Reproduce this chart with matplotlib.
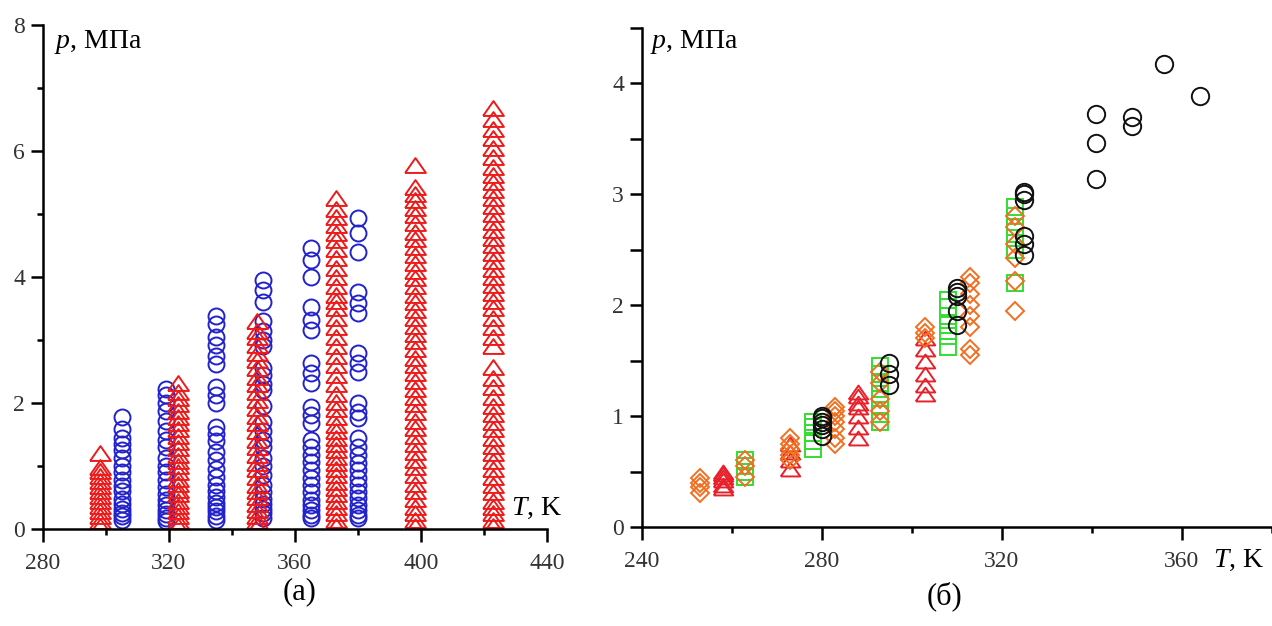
import matplotlib
matplotlib.use('Agg')
import matplotlib.pyplot as plt
from matplotlib.ticker import MultipleLocator

plt.rcParams['font.family'] = ['Liberation Serif', 'DejaVu Serif']
plt.rcParams['mathtext.fontset'] = 'custom'
plt.rcParams['mathtext.rm'] = 'Liberation Serif'
plt.rcParams['mathtext.it'] = 'Liberation Serif:italic'

# ---------------- (а) isotherms ----------------
a_circ_T = [305, 319, 335, 350, 365, 380]
a_circ_p = [
    [0.15, 0.2, 0.26, 0.32, 0.4, 0.48, 0.6, 0.68, 0.78, 0.9, 1.0, 1.12, 1.25, 1.35, 1.45, 1.58, 1.78],
    [0.12, 0.18, 0.24, 0.3, 0.38, 0.46, 0.55, 0.66, 0.78, 0.9, 1.0, 1.12, 1.3, 1.42, 1.55, 1.72, 1.88,
     2.0, 2.12, 2.22],
    [0.15, 0.2, 0.28, 0.35, 0.42, 0.5, 0.6, 0.7, 0.82, 0.95, 1.1, 1.22, 1.4, 1.5, 1.62, 2.0, 2.12, 2.25,
     2.62, 2.75, 2.92, 3.05, 3.25, 3.38],
    [0.18, 0.25, 0.32, 0.4, 0.48, 0.58, 0.7, 0.85, 1.0, 1.12, 1.3, 1.42, 1.55, 1.7, 1.95, 2.2, 2.3,
     2.45, 2.55, 2.9, 3.0, 3.15, 3.3, 3.6, 3.8, 3.95],
    [0.17, 0.22, 0.3, 0.38, 0.46, 0.59, 0.7, 0.81, 0.94, 1.06, 1.17, 1.3, 1.41, 1.68, 1.81, 1.94, 2.32,
     2.48, 2.63, 3.16, 3.32, 3.52, 4.0, 4.27, 4.46],
    [0.17, 0.22, 0.3, 0.38, 0.49, 0.59, 0.7, 0.81, 0.94, 1.05, 1.17, 1.3, 1.44, 1.76, 1.86, 2.0, 2.49,
     2.63, 2.79, 3.43, 3.58, 3.76, 4.4, 4.7, 4.94],
]
a_tri_T = [298, 323, 348, 373, 398, 423]
a_tri_p = [
    [0.05, 0.12, 0.2, 0.28, 0.36, 0.44, 0.52, 0.6, 0.68, 0.76, 0.84, 0.92, 0.98, 1.2],
    [0.05, 0.12, 0.2, 0.28, 0.36, 0.45, 0.55, 0.62, 0.72, 0.8, 0.9, 1.0, 1.08, 1.18, 1.28, 1.38, 1.48,
     1.58, 1.68, 1.78, 1.88, 1.98, 2.08, 2.18, 2.32],
    [0.05, 0.12, 0.2, 0.3, 0.4, 0.5, 0.6, 0.7, 0.82, 0.95, 1.05, 1.18, 1.3, 1.42, 1.55, 1.68, 1.8, 1.92,
     2.05, 2.18, 2.3, 2.42, 2.55, 2.68, 2.8, 2.92, 3.05, 3.15, 3.3],
    [0.05, 0.15, 0.25, 0.35, 0.45, 0.55, 0.65, 0.75, 0.85, 0.95, 1.05, 1.15, 1.25, 1.35, 1.45, 1.55,
     1.65, 1.78, 1.9, 2.02, 2.15, 2.3, 2.45, 2.6, 2.75, 2.9, 3.05, 3.2, 3.35, 3.5, 3.62, 3.72, 3.85,
     4.0, 4.15, 4.3, 4.45, 4.58, 4.7, 4.82, 4.95, 5.08, 5.25],
    [0.05, 0.15, 0.25, 0.35, 0.48, 0.6, 0.72, 0.85, 0.98, 1.1, 1.22, 1.35, 1.48, 1.6, 1.72, 1.85, 1.98,
     2.1, 2.22, 2.35, 2.48, 2.6, 2.72, 2.85, 2.98, 3.1, 3.22, 3.35, 3.48, 3.6, 3.72, 3.85, 3.98, 4.1,
     4.22, 4.35, 4.48, 4.6, 4.72, 4.85, 4.98, 5.1, 5.22, 5.32, 5.43, 5.78],
    [0.05, 0.15, 0.25, 0.35, 0.45, 0.58, 0.7, 0.82, 0.95, 1.08, 1.2, 1.32, 1.45, 1.58, 1.7, 1.82, 1.95,
     2.1, 2.25, 2.4, 2.57, 2.9, 3.05, 3.2, 3.35, 3.5, 3.62, 3.75, 3.88, 4.0, 4.12, 4.25, 4.38, 4.5,
     4.62, 4.75, 4.88, 5.0, 5.12, 5.25, 5.38, 5.5, 5.62, 5.75, 5.9, 6.05, 6.2, 6.35, 6.5, 6.68],
]

# ---------------- (б) saturation data ----------------
b_circ_T = [280, 295, 310, 325, 341, 349, 356, 364]
b_circ_p = [[0.82, 0.88, 0.92, 0.95, 0.98, 1.0], [1.28, 1.38, 1.48], [1.82, 1.95, 2.08, 2.12, 2.15],
            [2.45, 2.55, 2.62, 2.95, 3.0, 3.02], [3.14, 3.46, 3.72], [3.61, 3.69], [4.17], [3.88]]
b_sq_T = [263, 278, 293, 308, 323]
b_sq_p = [[0.45, 0.5, 0.55, 0.6], [0.7, 0.78, 0.85, 0.9, 0.95], [0.95, 1.02, 1.1, 1.2, 1.3, 1.38, 1.45],
          [1.62, 1.72, 1.82, 1.9, 1.98, 2.05], [2.2, 2.5, 2.6, 2.7, 2.8, 2.88]]
b_dia_T = [253, 263, 273, 283, 293, 303, 313, 323]
b_dia_p = [[0.31, 0.36, 0.4, 0.44], [0.45, 0.55, 0.6], [0.6, 0.65, 0.7, 0.75, 0.8],
           [0.75, 0.8, 0.88, 0.95, 1.0, 1.05, 1.08], [0.95, 1.05, 1.15, 1.3, 1.4], [1.7, 1.75, 1.8],
           [1.55, 1.6, 1.8, 1.9, 2.0, 2.1, 2.2, 2.25], [1.95, 2.22, 2.42, 2.55, 2.7, 2.8]]
b_tri_T = [258, 273, 288, 303]
b_tri_p = [[0.35, 0.38, 0.42, 0.45, 0.48, 0.5], [0.52, 0.6, 0.68, 0.75],
           [0.8, 0.9, 1.0, 1.08, 1.12, 1.18, 1.22], [1.2, 1.28, 1.38, 1.5, 1.6, 1.7]]

# wide, flat triangle used for both panels
tri = [(-0.7, -0.5), (0.7, -0.5), (0.0, 0.5), (-0.7, -0.5)]


def columns(ax, temps, groups, **kw):
    for t, ps in zip(temps, groups):
        ax.plot([t] * len(ps), ps, ls='none', mfc='none', **kw)


def style(ax, ymaj, ymin, xmaj, xmin):
    for s in ['top', 'right']:
        ax.spines[s].set_visible(False)
    for s in ['left', 'bottom']:
        ax.spines[s].set_linewidth(1.8)
    ax.xaxis.set_major_locator(MultipleLocator(xmaj))
    ax.xaxis.set_minor_locator(MultipleLocator(xmin))
    ax.yaxis.set_major_locator(MultipleLocator(ymaj))
    ax.yaxis.set_minor_locator(MultipleLocator(ymin))
    ax.tick_params(which='both', direction='out', width=1.8, labelsize=17, labelcolor='#333333')
    ax.tick_params(which='major', length=9)
    ax.tick_params(which='minor', length=4)
    ax.tick_params(axis='x', pad=8)
    ax.tick_params(axis='y', pad=4)


fig = plt.figure(figsize=(12.72, 6.26), dpi=100)

ax1 = fig.add_axes([0.0338, 0.155, 0.3962, 0.8051])
columns(ax1, a_circ_T, a_circ_p, marker='o', ms=11.5, mec='#2222cc', mew=1.4)
columns(ax1, a_tri_T, a_tri_p, marker=tri, ms=15, mec='#ee1a1a', mew=1.4)
ax1.set_xlim(280, 440)
ax1.set_ylim(0, 8)
style(ax1, 2, 1, 40, 20)
ax1.text(283.5, 7.73, r'$p$, МПа', fontsize=20, va='center', ha='left')
ax1.text(428.5, 0.33, r'$T$, K', fontsize=20, va='center', ha='left')

ax2 = fig.add_axes([0.5047, 0.158, 0.4953, 0.798])
columns(ax2, b_tri_T, b_tri_p, marker=tri, ms=14, mec='#e8202a', mew=1.4)
columns(ax2, b_sq_T, b_sq_p, marker='s', ms=11.5, mec='#33dd33', mew=1.4)
columns(ax2, b_dia_T, b_dia_p, marker='D', ms=9, mec='#f07020', mew=1.4)
columns(ax2, b_circ_T, b_circ_p, marker='o', ms=12.5, mec='#111111', mew=1.4)
ax2.set_xlim(240, 380)
ax2.set_ylim(0, 4.5)
style(ax2, 1, 0.5, 40, 20)
ax2.tick_params(axis='y', which='minor', length=9)
ax2.text(241.8, 4.37, r'$p$, МПа', fontsize=20, va='center', ha='left')
ax2.text(367, -0.3, r'$T$, K', fontsize=20, va='center', ha='left')

fig.text(300 / 1272, 1 - 592 / 626, '(а)', fontsize=22, ha='center', va='center')
fig.text(945 / 1272, 1 - 596 / 626, '(б)', fontsize=22, ha='center', va='center')

fig.savefig('out.png', dpi=100)
